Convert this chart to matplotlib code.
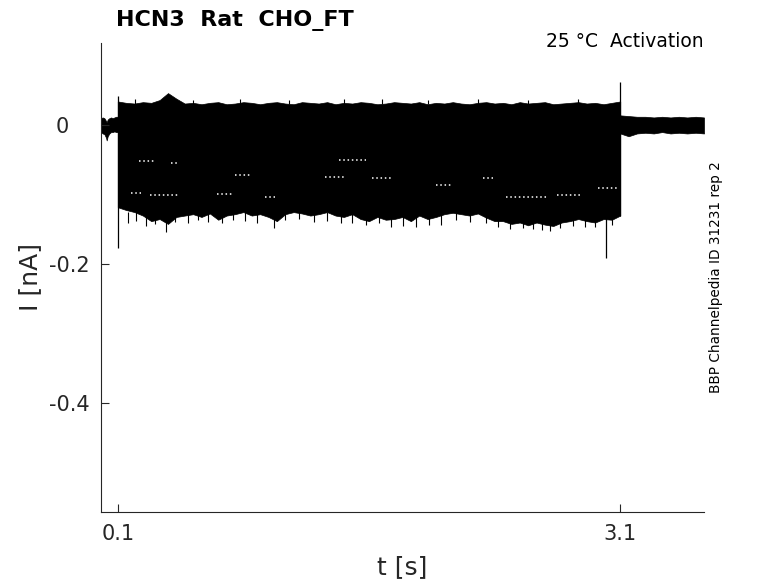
import numpy as np
import matplotlib
matplotlib.use("Agg")
import matplotlib.pyplot as plt

plt.rcParams['font.family'] = ['DejaVu Sans']
plt.rcParams['axes.unicode_minus'] = False

# holding levels before / after the step (noise band, nA)
pre_t = [0.0, 0.01, 0.02, 0.03, 0.034, 0.04, 0.05, 0.06, 0.07, 0.08, 0.09, 0.1]
pre_top = [0.010, 0.011, 0.010, 0.006, 0.004, 0.008, 0.010, 0.011, 0.010, 0.011, 0.012, 0.012]
pre_bot = [-0.010, -0.012, -0.013, -0.018, -0.022, -0.016, -0.012, -0.010, -0.010, -0.009, -0.010, -0.010]

post_t = [3.1, 3.15, 3.2, 3.25, 3.3, 3.35, 3.4, 3.45, 3.5, 3.55, 3.6]
post_top = [0.014, 0.013, 0.012, 0.012, 0.011, 0.012, 0.011, 0.012, 0.011, 0.012, 0.011]
post_bot = [-0.012, -0.016, -0.012, -0.011, -0.012, -0.010, -0.012, -0.011, -0.012, -0.011, -0.012]

# envelope of all sweeps during the 0.1 - 3.1 s step
step_t = np.linspace(0.1, 3.1, 61)
step_top = [0.034, 0.032, 0.031, 0.033, 0.032, 0.036, 0.046, 0.038, 0.031, 0.032,
            0.030, 0.032, 0.033, 0.030, 0.031, 0.033, 0.032, 0.030, 0.032, 0.033,
            0.031, 0.030, 0.033, 0.032, 0.031, 0.033, 0.030, 0.032, 0.031, 0.033,
            0.032, 0.030, 0.031, 0.033, 0.032, 0.031, 0.033, 0.030, 0.032, 0.031,
            0.033, 0.031, 0.030, 0.032, 0.033, 0.031, 0.032, 0.030, 0.033, 0.031,
            0.032, 0.033, 0.030, 0.031, 0.032, 0.033, 0.031, 0.032, 0.030, 0.032, 0.034]
step_bot = [-0.118, -0.122, -0.125, -0.130, -0.138, -0.135, -0.142, -0.132, -0.130, -0.128,
            -0.132, -0.127, -0.136, -0.130, -0.128, -0.125, -0.130, -0.128, -0.132, -0.138,
            -0.128, -0.125, -0.127, -0.130, -0.128, -0.125, -0.130, -0.132, -0.128, -0.135,
            -0.138, -0.132, -0.136, -0.135, -0.132, -0.138, -0.130, -0.135, -0.132, -0.128,
            -0.126, -0.128, -0.130, -0.127, -0.133, -0.138, -0.138, -0.142, -0.140, -0.144,
            -0.140, -0.143, -0.145, -0.140, -0.138, -0.135, -0.138, -0.140, -0.135, -0.136, -0.130]

# sharp noise spikes outside the envelope
spike_t = [0.16, 0.21, 0.27, 0.32, 0.39, 0.44, 0.52, 0.58, 0.64, 0.72, 0.79, 0.86, 0.93,
           1.03, 1.10, 1.18, 1.27, 1.35, 1.43, 1.50, 1.58, 1.66, 1.73, 1.80, 1.88, 1.96,
           2.03, 2.12, 2.20, 2.30, 2.37, 2.44, 2.52, 2.58, 2.63, 2.68, 2.74, 2.82, 2.89,
           2.95, 3.05]
spike_lo = [-0.140, -0.138, -0.145, -0.142, -0.154, -0.139, -0.140, -0.137, -0.139, -0.141,
            -0.136, -0.138, -0.140, -0.148, -0.137, -0.135, -0.139, -0.138, -0.141, -0.140,
            -0.143, -0.141, -0.146, -0.145, -0.147, -0.143, -0.144, -0.137, -0.139, -0.141,
            -0.147, -0.150, -0.148, -0.149, -0.151, -0.152, -0.148, -0.145, -0.146, -0.147,
            -0.144]
peak_t = [0.20, 0.55, 0.83, 1.12, 1.45, 1.68, 1.95, 2.25, 2.55, 2.85]
peak_hi = [0.037, 0.036, 0.037, 0.036, 0.037, 0.038, 0.036, 0.037, 0.036, 0.037]

# visible gaps between neighbouring sweeps
gap_t0 = [0.225, 0.42, 0.18, 0.29, 0.69, 0.98, 0.80, 1.34, 1.42, 1.62, 2.28, 2.42, 2.72, 2.97, 2.00]
gap_t1 = [0.33, 0.46, 0.24, 0.46, 0.78, 1.04, 0.90, 1.46, 1.58, 1.74, 2.34, 2.66, 2.86, 3.08, 2.10]
gap_y = [-0.052, -0.054, -0.098, -0.101, -0.099, -0.104, -0.072, -0.075, -0.050, -0.076,
         -0.076, -0.104, -0.100, -0.090, -0.086]

# capacitive transients
trans_t = [0.1, 3.017, 3.1]
trans_lo = [-0.177, -0.191, -0.130]
trans_hi = [0.042, -0.120, 0.062]

fig = plt.figure(figsize=(7.78, 5.83), dpi=100)
ax = fig.add_axes([101 / 778, 1 - 512 / 583, 603 / 778, 469 / 583])

ax.fill_between(pre_t, pre_bot, pre_top, color='black', lw=0.5)
ax.fill_between(post_t, post_bot, post_top, color='black', lw=0.5)
ax.fill_between(step_t, step_bot, step_top, color='black', lw=0.5)
ax.vlines(spike_t, -0.125, spike_lo, color='black', lw=0.8)
ax.vlines(peak_t, 0.03, peak_hi, color='black', lw=0.8)
ax.hlines(gap_y, gap_t0, gap_t1, color='white', lw=1.1, linestyles=(0, (1, 1.8)))
ax.vlines(trans_t, trans_lo, trans_hi, color='black', lw=0.9)

ax.set_xlim(0, 3.6)
ax.set_ylim(-0.556, 0.118)
ax.set_xticks([0.1, 3.1])
ax.set_xticklabels(['0.1', '3.1'])
ax.set_yticks([-0.4, -0.2, 0])
ax.set_yticklabels(['-0.4', '-0.2', '0'])
ylabs = ax.get_yticklabels()
for lab in ylabs[:2]:
    lab.set_horizontalalignment('center')

axcol = '#262626'
for s in ['top', 'right']:
    ax.spines[s].set_visible(False)
for s in ['left', 'bottom']:
    ax.spines[s].set_color(axcol)
    ax.spines[s].set_linewidth(0.8)
ax.tick_params(axis='both', direction='in', length=6, width=0.8, color=axcol,
               labelcolor=axcol, labelsize=15)
ax.tick_params(axis='y', pad=23)
ax.tick_params(axis='x', pad=9)

fig.text(402 / 778, 1 - 567 / 583, 't [s]', fontsize=18, color=axcol, ha='center', va='center')
fig.text(30 / 778, 1 - 277 / 583, 'I [nA]', fontsize=18, color=axcol, rotation=90,
         ha='center', va='center')

fig.text(116 / 778, 1 - 26 / 583, 'HCN3  Rat  CHO_FT', fontsize=16, fontweight='bold',
         ha='left', va='baseline')
fig.text(704 / 778, 1 - 47 / 583, '25 °C  Activation', fontsize=13.5, ha='right', va='baseline')
fig.text(716 / 778, 1 - 277 / 583, 'BBP Channelpedia ID 31231 rep 2', fontsize=9.8,
         rotation=90, ha='center', va='center')

fig.savefig('out.png', dpi=100)
